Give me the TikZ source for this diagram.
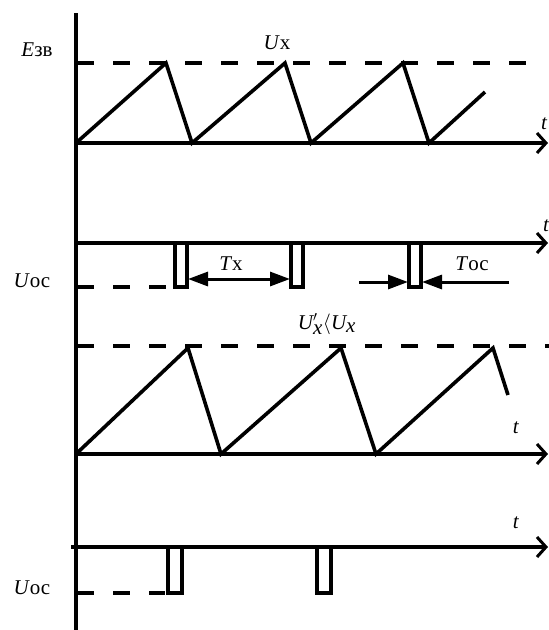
\documentclass[tikz,border=0pt]{standalone}
\usepackage{fontspec}
\setmainfont{Liberation Serif}
\usetikzlibrary{arrows.meta}
\tikzset{
  axisline/.style={line width=3.2pt,-{Straight Barb[length=9pt,width=20pt,line width=3pt]}},
  dashline/.style={line width=3.2pt,dash pattern=on 17pt off 19pt},
  wave/.style={line width=3.6pt,line join=miter},
  pulse/.style={line width=3.2pt},
  dimarrow/.style={line width=3pt,-{Triangle[length=20pt,width=14pt]}},
  lbl/.style={font=\fontsize{21}{24}\selectfont,inner sep=0pt},
}
\begin{document}
\begin{tikzpicture}[x=1pt,y=-1pt]
        \useasboundingbox (0,0) rectangle (549,630);
        \draw[line width=3.2pt] (76,13)--(76,630);
        % ramp voltage
        \draw[axisline] (76,143)--(548,143);
        \draw[dashline] (77,63)--(530,63);
        \draw[wave] (76,143)--(166,63)--(192,143)--(285,63)--(311,143)--(403,63)--(429,143)--(485,92);
        \node[lbl] (ezv) at (37,50) {\textit{E}зв};
        \node[lbl] (ux) at (277,43) {\textit{U}х};
        \node[lbl,anchor=west] (t1) at (541,124) {\textit{t}};
        % pulses
        \draw[axisline] (76,243)--(548,243);
        \draw[dashline] (77,287)--(170,287);
        \foreach \h in {175, 291, 409}{
            \draw[pulse] (\h,245)--(\h,287)--(\h+12,287)--(\h+12,245);
        }
        \draw[dimarrow,{Triangle[length=20pt,width=14pt]}-{Triangle[length=20pt,width=14pt]}] (188,279)--(290,279);
        \draw[dimarrow] (359,282)--(408,282);
        \draw[dimarrow] (509,282)--(422,282);
        \node[lbl] (tx) at (231,264) {\textit{T}х};
        \node[lbl] (toc) at (472,264) {\textit{T}ос};
        \node[lbl] (uoc1) at (32,281) {\textit{U}ос};
        \node[lbl,anchor=west] (t2) at (543,226) {\textit{t}};
        % reduced ramp
        \node[lbl] (uxx) at (327,324) {$\textit{U}'_{\textit{x}}\langle\textit{U}_{\textit{x}}$};
        \draw[dashline] (77,346)--(549,346);
        \draw[axisline] (76,454)--(548,454);
        \draw[wave] (76,454)--(188,348)--(221,454)--(341,348)--(376,454)--(493,348)--(508,395);
        \node[lbl] (t3) at (516,428) {\textit{t}};
        % pulses
        \draw[axisline] (71,547)--(548,547);
        \draw[dashline] (77,593)--(165,593);
        \foreach \h in {168, 317}{
            \draw[pulse] (\h,549)--(\h,593)--(\h+14,593)--(\h+14,549);
        }
        \node[lbl] (uoc2) at (32,588) {\textit{U}ос};
        \node[lbl] (t4) at (516,523) {\textit{t}};
\end{tikzpicture}
\end{document}
